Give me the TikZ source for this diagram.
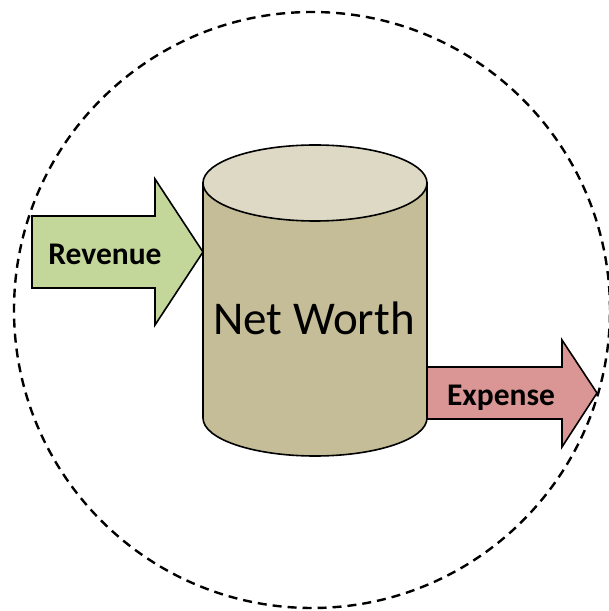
\documentclass[tikz,border=0pt]{standalone}
\usepackage{fontspec}
\setmainfont{Carlito}
\definecolor{revgreen}{RGB}{196,215,155}
\definecolor{exped}{RGB}{218,150,148}
\definecolor{tankbody}{RGB}{196,189,151}
\definecolor{tanktop}{RGB}{221,217,196}
\begin{document}
\begin{tikzpicture}
[x=1pt,y=1pt,
  arrowdecorate/.style={draw,line width=1.6pt,line join=miter},%
  tankdecorate/.style={draw,line width=1.6pt},%
  labeldecorate/.style={font=\bfseries\fontsize{31.5}{38}\selectfont},%
  ringdecorate/.style={line width=2.4pt,dash pattern=on 9pt off 6pt}]
\useasboundingbox (0,0) rectangle (609,611);
% boundary
\draw[ringdecorate] (312,301) circle[radius=298];
% flows in and out
\filldraw[arrowdecorate,fill=revgreen]
(32,323) -- (32,395) -- (155,395) -- (155,432) -- (203,359) -- (155,286) -- (155,323) -- cycle;
\filldraw[arrowdecorate,fill=exped]
(420,192) -- (420,244) -- (562,244) -- (562,271) -- (597,218) -- (562,164) -- (562,192) -- cycle;
% the tank
\filldraw[tankdecorate,fill=tankbody]
(203,428) -- (203,193) arc[start angle=180,end angle=360,x radius=112,y radius=38] -- (427,428) -- cycle;
\filldraw[tankdecorate,fill=tanktop] (315,428) ellipse[x radius=112,y radius=38];
% labels
\node (worth) at (314,276) [anchor=base,font=\fontsize{47}{56}\selectfont] {Net Worth};
\node (revenue) at (105,357) [labeldecorate] {Revenue};
\node (expense) at (501,213) [labeldecorate] {Expense};
\end{tikzpicture}
\end{document}
